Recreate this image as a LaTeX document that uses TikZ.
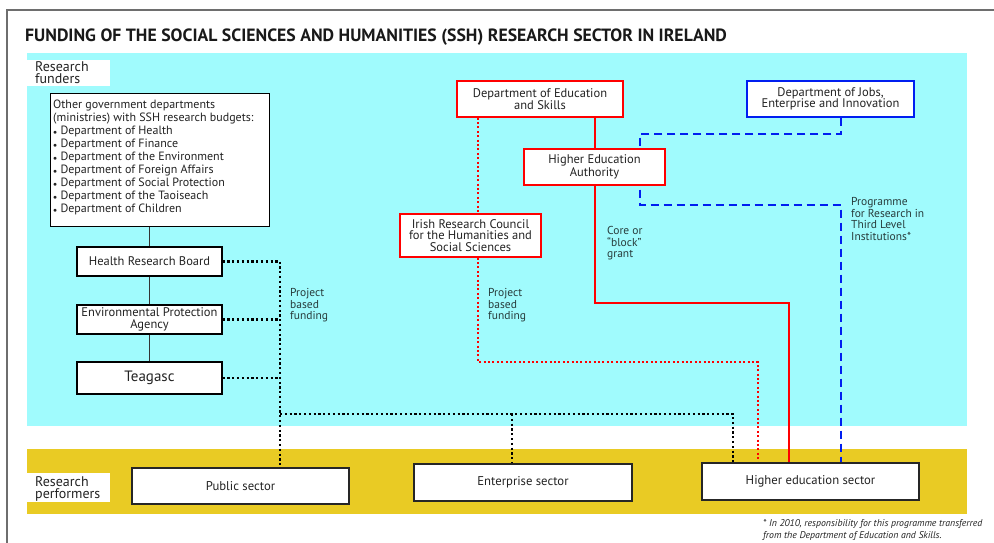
\documentclass[tikz,border=0pt]{standalone}
\usepackage{fontspec}
\setmainfont{PT Sans}
\usetikzlibrary{calc}
\definecolor{cyanbg}{RGB}{160,251,253}
\definecolor{yellowbg}{RGB}{233,203,36}
\definecolor{txt}{RGB}{35,35,35}
\definecolor{lbl}{RGB}{40,60,60}
\definecolor{myred}{RGB}{255,0,0}
\definecolor{myblue}{RGB}{0,30,240}
\definecolor{framegray}{RGB}{110,110,110}
\pgfdeclarelayer{back}
\pgfdeclarelayer{conn}
\pgfsetlayers{back,conn,main}
\begin{document}
\begin{tikzpicture}[x=1pt,y=-1pt,
  box/.style={draw=black, line width=1.1pt, fill=white, inner sep=1pt, align=center,
    font=\fontsize{12.5}{11.5}\selectfont, text=txt},
  redbox/.style={box, draw=myred},
  bluebox/.style={box, draw=myblue},
  perfbox/.style={box, line width=1.3pt, draw=black!85, font=\fontsize{12.7}{12}\selectfont},
  lab/.style={anchor=north west, align=left, inner sep=0pt, text=lbl,
    font=\fontsize{11.5}{11.8}\selectfont},
  tag/.style={anchor=north west, fill=white, inner sep=0pt},
  tagtext/.style={anchor=north west, align=left, inner sep=0pt, text=txt,
    font=\fontsize{14}{12.5}\selectfont},
  blackdot/.style={line width=2.2pt, dash pattern=on 2.2pt off 2.6pt, black},
  reddot/.style={line width=2pt, dash pattern=on 2pt off 2.4pt, myred},
  redsolid/.style={line width=2.4pt, myred},
  bluedash/.style={line width=2.4pt, dash pattern=on 8pt off 5pt, myblue},
  plain/.style={line width=1.4pt, black!80}
]
\useasboundingbox (0,0) rectangle (994,543);
% frame
\draw[framegray, line width=1.3pt] (994,10) -- (7,10) -- (7,543);
% title
\node[anchor=west, inner sep=0pt, font=\fontsize{17.75}{18}\bfseries\selectfont, text=black!90]
  (title) at (25,37.5) {FUNDING OF THE SOCIAL SCIENCES AND HUMANITIES (SSH) RESEARCH SECTOR IN IRELAND};
\begin{pgfonlayer}{back}
  \fill[cyanbg] (27,53) rectangle (967,426);
  \fill[yellowbg] (27,449) rectangle (967,514);
\end{pgfonlayer}
% band labels
\node[tag, minimum width=83pt, minimum height=26pt] (rf) at (27,60) {};
\node[tagtext] (rft) at (35,61) {Research\\funders};
\node[tag, minimum width=83pt, minimum height=29pt] (rp) at (27,473) {};
\node[tagtext] (rpt) at (35,476) {Research\\performers};

% funder boxes
\node[box, anchor=north west, minimum width=219pt, minimum height=133pt] (gov) at (50,93) {};
\node[anchor=north west, align=left, inner sep=0pt, text=txt, font=\fontsize{12}{13}\selectfont]
  (govt) at (53,99.5) {Other government departments\\(ministries) with SSH research budgets:\\
  {\scriptsize$\bullet$} Department of Health\\{\scriptsize$\bullet$} Department of Finance\\
  {\scriptsize$\bullet$} Department of the Environment\\{\scriptsize$\bullet$} Department of Foreign Affairs\\
  {\scriptsize$\bullet$} Department of Social Protection\\{\scriptsize$\bullet$} Department of the Taoiseach\\
  {\scriptsize$\bullet$} Department of Children};
\node[box, minimum width=145pt, minimum height=29pt] (hrb) at (149.5,261.5) {Health Research Board};
\node[box, minimum width=145pt, minimum height=29pt] (epa) at (149.5,319.5) {Environmental Protection\\Agency};
\node[box, minimum width=145pt, minimum height=32pt, font=\fontsize{15}{15}\selectfont] (teag) at (149.5,378) {Teagasc};

\node[redbox, minimum width=166pt, minimum height=36pt] (des) at (540,99) {Department of Education\\and Skills};
\node[redbox, minimum width=141pt, minimum height=36pt] (hea) at (594.5,167) {Higher Education\\Authority};
\node[redbox, minimum width=141pt, minimum height=43pt] (irc) at (470.5,235.5) {Irish Research Council\\for the Humanities and\\Social Sciences};
\node[bluebox, minimum width=167pt, minimum height=36pt] (jobs) at (830.5,99) {Department of Jobs,\\Enterprise and Innovation};

% performer boxes
\node[perfbox, minimum width=217pt, minimum height=36pt] (pub) at (240.5,486) {Public sector};
\node[perfbox, minimum width=218pt, minimum height=37pt] (ent) at (523,482.5) {Enterprise sector};
\node[perfbox, minimum width=217pt, minimum height=37pt] (hes) at (810.5,481.5) {Higher education sector};

% connector coordinates
\coordinate (bx) at (280,414);
\coordinate (ex) at (512,414);
\coordinate (hx) at (733,414);
\coordinate (rdx) at (478,362);
\coordinate (rdr) at (758,362);
\coordinate (rsx) at (595,303);
\coordinate (rsr) at (789,303);
\coordinate (bj) at (841,134);
\coordinate (bl) at (640,134);
\coordinate (bl2) at (640,205);
\coordinate (br2) at (841,205);

\begin{pgfonlayer}{conn}
  % solid grey chain
  \draw[plain] (hrb.north) -- (hrb.north |- gov.south);
  \draw[plain] (epa.north) -- (hrb.south);
  \draw[plain] (teag.north) -- (epa.south);
  % black dotted project funding
  \draw[blackdot] (hrb.east) -- (hrb.east -| bx);
  \draw[blackdot] (epa.east) -- (epa.east -| bx);
  \draw[blackdot] (teag.east) -- (teag.east -| bx);
  \draw[blackdot] (hrb.east -| bx) -- (bx |- pub.north);
  \draw[blackdot] (bx) -- (hx) -- (hx |- hes.north);
  \draw[blackdot] (ex) -- (ex |- ent.north);
  % red dotted
  \draw[reddot] (rdx |- des.south) -- (rdx |- irc.north);
  \draw[reddot] (rdx |- irc.south) -- (rdx) -- (rdr) -- (rdr |- hes.north);
  % red solid
  \draw[redsolid] (rsx |- des.south) -- (rsx |- hea.north);
  \draw[redsolid] (rsx |- hea.south) -- (rsx) -- (rsr) -- (rsr |- hes.north);
  % blue dashed
  \draw[bluedash] (bj |- jobs.south) -- (bj) -- (bl) -- (bl2) -- (br2) -- (br2 |- hes.north);
\end{pgfonlayer}

% labels
\node[lab] (l1) at (290,288) {Project\\based\\funding};
\node[lab] (l2) at (488,288) {Project\\based\\funding};
\node[lab] (l3) at (607,226) {Core or\\``block''\\grant};
\node[lab] (l4) at (851,197) {Programme\\for Research in\\Third Level\\Institutions*};

% footnote
\node[anchor=north west, align=left, inner sep=0pt, text=txt, font=\fontsize{9.8}{12}\itshape\selectfont]
  (fn) at (763,519) {* In 2010, responsibility for this programme transferred\\from the Department of Education and Skills.};
\end{tikzpicture}
\end{document}
